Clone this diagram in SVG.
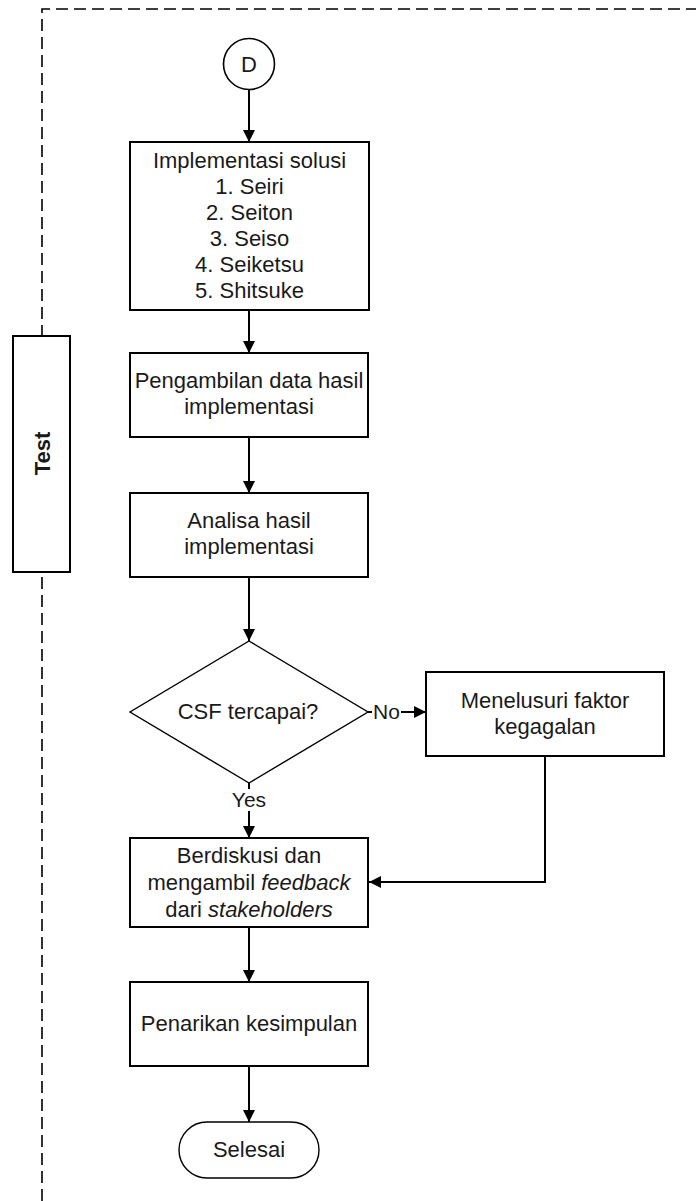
<svg xmlns="http://www.w3.org/2000/svg" width="696" height="1201" viewBox="0 0 696 1201">
  <defs>
    <marker id="arrow" markerWidth="12" markerHeight="12" refX="12" refY="6" orient="auto" markerUnits="userSpaceOnUse">
      <path d="M0,0 L12,6 L0,12 Z" fill="#000"/>
    </marker>
    <style>
      .box { fill: #fff; stroke: #000; stroke-width: 2; }
      .thin { fill: #fff; stroke: #000; stroke-width: 1.4; }
      .edge { fill: none; stroke: #000; stroke-width: 2; }
      .arrowed { marker-end: url(#arrow); }
      .lane { fill: none; stroke: #000; stroke-width: 1.6; stroke-dasharray: 12 6; }
      text { font-family: "Liberation Sans", Arial, sans-serif; font-size: 22px; fill: #1a1a1a; text-anchor: middle; }
      .bold { font-weight: bold; font-size: 22px; }
      .lbl { font-size: 21px; }
      .bg { fill: #fff; stroke: none; }
    </style>
  </defs>

  <!-- swimlane boundary -->
  <path class="lane" d="M42,1201 V9 H696"/>

  <!-- lane header -->
  <g id="lane-test">
    <rect class="box" x="13" y="336" width="57" height="236"/>
    <text class="bold" transform="translate(49.5,453.5) rotate(-90)">Test</text>
  </g>

  <!-- connectors -->
  <g id="connectors">
    <path class="edge arrowed" d="M249,89 V142"/>
    <path class="edge arrowed" d="M249,310 V353"/>
    <path class="edge arrowed" d="M249,437 V493"/>
    <path class="edge arrowed" d="M249,577 V641"/>
    <path class="edge arrowed" d="M368,712 H426"/>
    <path class="edge arrowed" d="M249,783 V838"/>
    <path class="edge arrowed" d="M545,756 V882 H369"/>
    <path class="edge arrowed" d="M249,927 V982"/>
    <path class="edge arrowed" d="M249,1066 V1122"/>
    <g id="label-no">
      <rect class="bg" x="372" y="700" width="29" height="24"/>
      <text class="lbl" x="386.5" y="719">No</text>
    </g>
    <g id="label-yes">
      <rect class="bg" x="229" y="789" width="40" height="22"/>
      <text class="lbl" x="249" y="807">Yes</text>
    </g>
  </g>

  <g id="node-d">
    <circle cx="249" cy="64" r="25.5" fill="#fff" stroke="#000" stroke-width="1.6"/>
    <text x="249" y="72">D</text>
  </g>

  <g id="node-implementasi">
    <rect class="box" x="130" y="142" width="239" height="168"/>
    <text x="249.5" y="168">Implementasi solusi</text>
    <text x="249.5" y="194">1. Seiri</text>
    <text x="249.5" y="220">2. Seiton</text>
    <text x="249.5" y="246">3. Seiso</text>
    <text x="249.5" y="272">4. Seiketsu</text>
    <text x="249.5" y="298">5. Shitsuke</text>
  </g>

  <g id="node-pengambilan">
    <rect class="box" x="130" y="353" width="238" height="84"/>
    <text x="249" y="388">Pengambilan data hasil</text>
    <text x="249" y="414">implementasi</text>
  </g>

  <g id="node-analisa">
    <rect class="box" x="130" y="493" width="238" height="84"/>
    <text x="249" y="528">Analisa hasil</text>
    <text x="249" y="554">implementasi</text>
  </g>

  <g id="node-csf">
    <path class="thin" d="M249,641 L368,712 L249,783 L130,712 Z"/>
    <text x="248" y="719">CSF tercapai?</text>
  </g>

  <g id="node-menelusuri">
    <rect class="box" x="426" y="672" width="238" height="84"/>
    <text x="545" y="708">Menelusuri faktor</text>
    <text x="545" y="734">kegagalan</text>
  </g>

  <g id="node-berdiskusi">
    <rect class="box" x="130" y="838" width="238" height="89"/>
    <text x="249" y="863">Berdiskusi dan</text>
    <text x="249" y="890">mengambil <tspan font-style="italic">feedback</tspan></text>
    <text x="249" y="917">dari <tspan font-style="italic">stakeholders</tspan></text>
  </g>

  <g id="node-penarikan">
    <rect class="box" x="130" y="982" width="238" height="84"/>
    <text x="249" y="1031">Penarikan kesimpulan</text>
  </g>

  <g id="node-selesai">
    <rect class="thin" x="179" y="1122" width="140" height="56" rx="28" ry="28"/>
    <text x="249" y="1157">Selesai</text>
  </g>
</svg>
